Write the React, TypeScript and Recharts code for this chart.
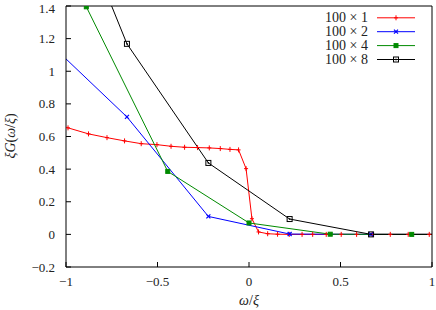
import { LineChart, Line, XAxis, YAxis } from "recharts";

const xTicks = [-1, -0.5, 0, 0.5, 1];
const yTicks = [-0.2, 0, 0.2, 0.4, 0.6, 0.8, 1, 1.2, 1.4];

// 100 x 1
const s1X = [-1.11, -0.989, -0.877, -0.776, -0.68, -0.589, -0.503, -0.426, -0.352, -0.281, -0.217, -0.157, -0.104, -0.057, -0.016, 0.016, 0.052, 0.102, 0.156, 0.22, 0.29, 0.348, 0.422, 0.504, 0.588, 0.673, 0.772, 0.87, 0.985, 1.11];
const s1Y = [0.69, 0.653, 0.616, 0.593, 0.573, 0.556, 0.55, 0.54, 0.534, 0.532, 0.53, 0.526, 0.521, 0.518, 0.403, 0.096, 0.015, 0.004, 0.001, 0, 0, 0, 0, 0, 0, 0, 0, 0, 0, 0];
// 100 x 2
const s2X = [-1.111, -0.667, -0.222, 0.222, 0.667, 1.111];
const s2Y = [1.194, 0.72, 0.11, 0.002, 0, 0];
// 100 x 4
const s4X = [-1.333, -0.889, -0.444, 0, 0.444, 0.889, 1.333];
const s4Y = [2.39, 1.395, 0.386, 0.07, 0.001, 0, 0];
// 100 x 8
const s8X = [-1.111, -0.667, -0.222, 0.222, 0.667, 1.111];
const s8Y = [2.4, 1.168, 0.438, 0.094, 0, 0];

const zip = (xs: number[], ys: number[]) => xs.map((x, i) => ({ x, y: ys[i] }));

const series = [
  { name: "100 × 1", data: zip(s1X, s1Y), color: "#ff0000", kind: "plus" },
  { name: "100 × 2", data: zip(s2X, s2Y), color: "#0000ff", kind: "cross" },
  { name: "100 × 4", data: zip(s4X, s4Y), color: "#008a00", kind: "box" },
  { name: "100 × 8", data: zip(s8X, s8Y), color: "#000000", kind: "boxdot" },
];

const font = "'Liberation Serif', 'DejaVu Serif', serif";
const fmt = (v: number) => (v < 0 ? "\u2212" + Math.abs(v) : String(v));

const Marker = ({ kind, cx, cy, color }: { kind: string; cx: number; cy: number; color: string }) => {
  if (kind === "plus") return <path d={`M${cx - 2},${cy}h4M${cx},${cy - 2.5}v5`} stroke={color} strokeWidth={1} fill="none" />;
  if (kind === "cross") return <path d={`M${cx - 2},${cy - 2}l4,4M${cx - 2},${cy + 2}l4,-4`} stroke={color} strokeWidth={1.2} fill="none" />;
  if (kind === "box") return <rect x={cx - 2} y={cy - 2} width={4} height={4} fill={color} stroke={color} strokeWidth={1} />;
  return (
    <g>
      <rect x={cx - 2.5} y={cy - 2.5} width={5} height={5} fill="none" stroke={color} strokeWidth={1} />
      <rect x={cx - 0.75} y={cy - 0.75} width={1.5} height={1.5} fill={color} />
    </g>
  );
};

const tickStyle = { fontFamily: font, fontSize: 13, fill: "#222" };

export default function App() {
  return (
    <div style={{ position: "fixed", left: 0, top: 0, width: 436, height: 310, background: "#fff" }}>
      <LineChart width={436} height={310} margin={{ top: 0, right: 0, bottom: 0, left: 0 }}>
        <XAxis xAxisId="b" dataKey="x" type="number" domain={[-1, 1]} ticks={xTicks} allowDataOverflow orientation="bottom" height={43}
          tickFormatter={fmt} tick={tickStyle} tickSize={-5} tickMargin={15} stroke="#000" tickLine={{ stroke: "#000" }} />
        <XAxis xAxisId="t" dataKey="x" type="number" domain={[-1, 1]} ticks={xTicks} allowDataOverflow orientation="top" height={6}
          tick={false} tickSize={-5} stroke="#000" tickLine={{ stroke: "#000" }} />
        <YAxis yAxisId="l" type="number" domain={[-0.2, 1.4]} ticks={yTicks} allowDataOverflow orientation="left" width={66}
          tickFormatter={fmt} tick={tickStyle} tickSize={-5} tickMargin={16} stroke="#000" tickLine={{ stroke: "#000" }} />
        <YAxis yAxisId="r" type="number" domain={[-0.2, 1.4]} ticks={yTicks} allowDataOverflow orientation="right" width={4}
          tick={false} tickSize={-5} stroke="#000" tickLine={{ stroke: "#000" }} />
        {series.map((s) => (
          <Line key={s.name} xAxisId="b" yAxisId="l" data={s.data} dataKey="y" name={s.name} type="linear" stroke={s.color} strokeWidth={1}
            isAnimationActive={false}
            dot={(p: any) => <Marker key={`${s.name}-${p.index}`} kind={s.kind} cx={p.cx} cy={p.cy} color={s.color} />}
            activeDot={false} />
        ))}
      </LineChart>
      <svg width={436} height={310} style={{ position: "absolute", left: 0, top: 0, pointerEvents: "none" }}>
        <text transform="translate(10,136) rotate(-90)" textAnchor="middle" dominantBaseline="central" fontFamily={font} fontSize={14} fill="#222">
          <tspan fontStyle="italic">ξG</tspan>(<tspan fontStyle="italic">ω</tspan>/<tspan fontStyle="italic">ξ</tspan>)
        </text>
        <text x={249} y={300} textAnchor="middle" dominantBaseline="central" fontFamily={font} fontSize={14} fill="#222">
          <tspan fontStyle="italic">ω</tspan>/<tspan fontStyle="italic">ξ</tspan>
        </text>
        {series.map((s, i) => {
          const y = 17.8 + i * 13.9;
          return (
            <g key={s.name}>
              <text x={368} y={y} textAnchor="end" dominantBaseline="central" fontFamily={font} fontSize={14} fill="#222">{s.name}</text>
              <line x1={377} x2={415} y1={y} y2={y} stroke={s.color} strokeWidth={1} />
              <Marker kind={s.kind} cx={396} cy={y} color={s.color} />
            </g>
          );
        })}
      </svg>
    </div>
  );
}
